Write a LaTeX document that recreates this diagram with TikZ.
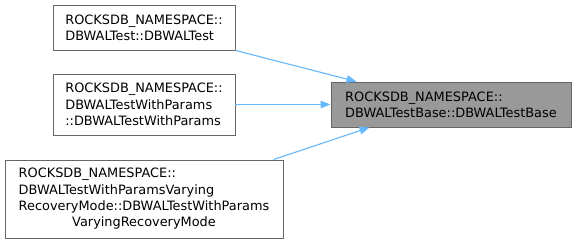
\documentclass[tikz,border=0pt]{standalone}
\usepackage{fontspec}
\setmainfont{DejaVu Sans}
\usetikzlibrary{arrows.meta}
\definecolor{edgeblue}{HTML}{63B8FF}
\definecolor{boxgray}{HTML}{666666}
\newcommand{\ns}{ROCKSDB\_NAMESPACE::}

\begin{document}
\begin{tikzpicture}[x=1pt,y=-1pt,
    fn/.style={draw=boxgray,fill=white,line width=0.9pt,inner sep=0pt,align=left,
      font=\fontsize{12.9}{16.2}\selectfont},
    call/.style={draw=edgeblue,line width=1.1pt,-{Triangle[length=10pt,width=7.5pt]}}]
   \useasboundingbox (0,0) rectangle (576,244);
   % callers
   \node[fn,minimum width=182pt,minimum height=45pt] (wal) at (144,27.5)
     {\ns\\DBWALTest::DBWALTest};
   \node[fn,minimum width=182pt,minimum height=61pt] (walp) at (144,104.5)
     {\ns\\DBWALTestWithParams\\::DBWALTestWithParams};
   \node[fn,minimum width=278pt,minimum height=78pt] (walr) at (144,199)
     {\begin{tabular}{@{}l@{}}\ns\\DBWALTestWithParamsVarying\\
      RecoveryMode::DBWALTestWithParams\\
      \multicolumn{1}{@{}c@{}}{VaryingRecoveryMode}\end{tabular}};
   % callee
   \node[fn,fill=black!40,minimum width=240pt,minimum height=45pt] (base) at (451,104.5)
     {\ns\\DBWALTestBase::DBWALTestBase};
   \draw[call] (wal.south east) -- ([xshift=26pt]base.north west);
   \draw[call] (walp.east) -- (base.west);
   \draw[call] ([xshift=-10pt]walr.north east) -- ([xshift=39pt]base.south west);
\end{tikzpicture}
\end{document}
